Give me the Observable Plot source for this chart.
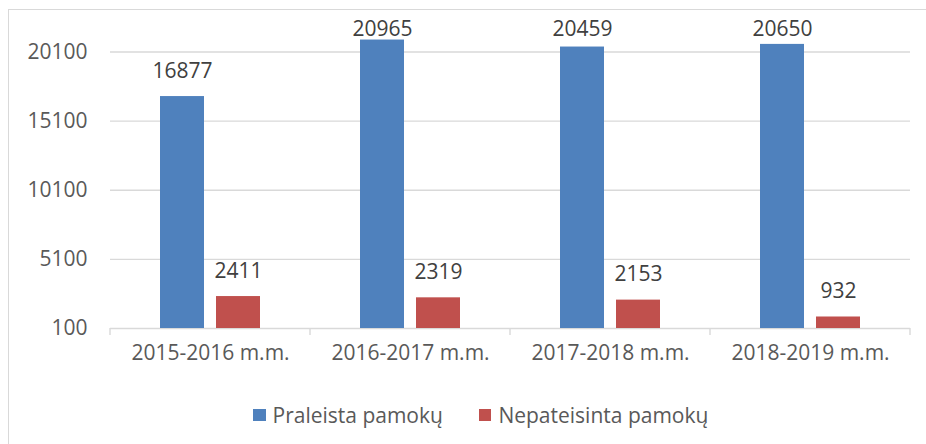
<!DOCTYPE html>
<html>
<head>
<meta charset="utf-8">
<script src="https://cdn.jsdelivr.net/npm/d3@7"></script>
<script src="https://cdn.jsdelivr.net/npm/@observablehq/plot@0.6"></script>
<style>
  html, body { margin: 0; padding: 0; background: #fff; width: 926px; height: 444px; overflow: hidden; }
  #frame { position: absolute; left: 8px; top: 9px; width: 940px; height: 460px; border: 1.5px solid #d9d9d9; box-sizing: border-box; }
  #chart { position: absolute; left: 0; top: 0; }
  #legend { position: absolute; left: 253px; top: 401px; display: flex; align-items: center; font-family: 'Open Sans', sans-serif; font-size: 21px; color: #595959; }
  #legend .item { display: flex; align-items: center; }
  #legend .sw { width: 12.5px; height: 12.5px; margin-right: 7px; }
</style>
</head>
<body>
<div id="frame"></div>
<div id="chart"></div>
<div id="legend"></div>
<script>
const categories = ["2015-2016 m.m.", "2016-2017 m.m.", "2017-2018 m.m.", "2018-2019 m.m."];
const seriesNames = ["Praleista pamokų", "Nepateisinta pamokų"];
const praleista = [16877, 20965, 20459, 20650];
const nepateisinta = [2411, 2319, 2153, 932];
const yTicks = [100, 5100, 10100, 15100, 20100];
const colors = ["#4F81BD", "#C0504D"];

const data = categories.flatMap((c, i) => [
  {cat: c, series: seriesNames[0], value: praleista[i]},
  {cat: c, series: seriesNames[1], value: nepateisinta[i]}
]);

const plot = Plot.plot({
  width: 926,
  height: 370,
  marginLeft: 109,
  marginRight: 15,
  marginTop: 51.5,
  marginBottom: 42,
  style: {fontFamily: "'Open Sans', sans-serif", fontSize: "21px", color: "#595959", background: "transparent", overflow: "visible"},
  fx: {domain: categories, padding: 0, label: null, axis: "bottom", tickSize: 0, tickPadding: 17},
  x: {domain: seriesNames, paddingInner: 0.21, paddingOuter: 0.864, axis: null},
  y: {domain: [yTicks[0], yTicks[yTicks.length - 1]], ticks: yTicks, label: null, tickSize: 0, tickPadding: 23, tickFormat: d => String(d)},
  color: {domain: seriesNames, range: colors},
  marks: [
    Plot.ruleY(yTicks, {stroke: "#d9d9d9", strokeWidth: 1.4}),
    Plot.barY(data, {fx: "cat", x: "series", y1: d => yTicks[0], y2: "value", fill: "series"}),
    Plot.text(data, {
      fx: "cat", x: "series", y: "value", text: d => String(d.value), fill: "#404040",
      render(index, scales, values, dimensions, context, next) {
        const y = Array.from(values.y, v => Math.max(v - 25.5, 29));
        return next(index, scales, {...values, y}, dimensions, context);
      }
    })
  ]
});

document.getElementById("chart").appendChild(plot);

// category boundary tick marks on the baseline, from the fx scale
const fx = plot.scale("fx");
const ys = plot.scale("y");
const y0 = ys.apply(yTicks[0]);
const bounds = categories.map(c => fx.apply(c)).concat([fx.apply(categories[categories.length - 1]) + fx.bandwidth]);
d3.select(plot).append("g")
  .selectAll("line").data(bounds).join("line")
  .attr("x1", d => d).attr("x2", d => d)
  .attr("y1", y0).attr("y2", y0 + 7)
  .attr("stroke", "#d9d9d9").attr("stroke-width", 1.4);

const legend = d3.select("#legend");
seriesNames.forEach((s, i) => {
  const it = legend.append("div").attr("class", "item").style("margin-right", i === 0 ? "36px" : "0");
  it.append("div").attr("class", "sw").style("background", colors[i]);
  it.append("span").text(s);
});
</script>
</body>
</html>
